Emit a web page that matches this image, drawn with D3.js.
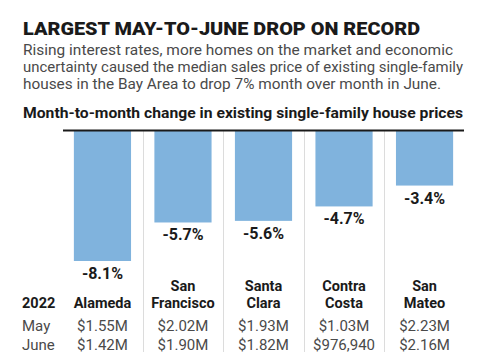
<!DOCTYPE html>
<html><head><meta charset="utf-8">
<script src="https://cdn.jsdelivr.net/npm/d3@7"></script>
<style>
html,body{margin:0;padding:0;background:#fff;}
text{font-family:Roboto,"Liberation Sans",sans-serif;}
</style></head>
<body><svg id="chart" width="485" height="360"></svg>
<script>
const counties = [["Alameda"], ["San","Francisco"], ["Santa","Clara"], ["Contra","Costa"], ["San","Mateo"]];
const changes = [-8.1, -5.7, -5.6, -4.7, -3.4];
const mayPrices = ["$1.55M", "$2.02M", "$1.93M", "$1.03M", "$2.23M"];
const junePrices = ["$1.42M", "$1.90M", "$1.82M", "$976,940", "$2.16M"];
const yearLabel = "2022";
const rowLabels = ["May", "June"];
const title = "LARGEST MAY-TO-JUNE DROP ON RECORD";
const subtitle = ["Rising interest rates, more homes on the market and economic",
  "uncertainty caused the median sales price of existing single-family",
  "houses in the Bay Area to drop 7% month over month in June."];
const chartTitle = "Month-to-month change in existing single-family house prices";

const svg = d3.select("#chart");
const names = counties.map(d => d.join(" "));

svg.append("text").attr("x", 23).attr("y", 35).text(title)
  .attr("font-size", 19).attr("font-weight", 900).attr("fill", "#1a1a1a")
  .attr("textLength", 397).attr("lengthAdjust", "spacingAndGlyphs");

const subL = [430, 440, 418];
subtitle.forEach((s, i) => {
  svg.append("text").attr("x", 23).attr("y", 55 + i * 17).text(s)
    .attr("font-size", 15).attr("fill", "#4a4a4a")
    .attr("textLength", subL[i]).attr("lengthAdjust", "spacingAndGlyphs");
});

svg.append("text").attr("x", 23).attr("y", 118).text(chartTitle)
  .attr("font-size", 15).attr("font-weight", 700).attr("fill", "#1a1a1a")
  .attr("textLength", 440).attr("lengthAdjust", "spacingAndGlyphs");

const x = d3.scaleBand().domain(names).range([63, 464]).paddingInner(0.29).paddingOuter(0.135);
const y = d3.scaleLinear().domain([0, -8.1]).range([131, 261]);
const step = x.step(), bw = x.bandwidth();

// separators
svg.append("g").selectAll("line").data(names.slice(0, -1)).join("line")
  .attr("x1", d => Math.round(x(d) + bw + (step - bw) / 2) + 0.5)
  .attr("x2", d => Math.round(x(d) + bw + (step - bw) / 2) + 0.5)
  .attr("y1", 131).attr("y2", 352)
  .attr("stroke", "#dcdcdc").attr("stroke-width", 1);

svg.append("g").selectAll("rect").data(changes).join("rect")
  .attr("x", (d, i) => x(names[i])).attr("width", bw)
  .attr("y", y(0)).attr("height", d => y(d) - y(0))
  .attr("fill", "#80b3dd");

svg.append("line").attr("x1", 63).attr("x2", 464).attr("y1", 130.5).attr("y2", 130.5)
  .attr("stroke", "#1a1a1a").attr("stroke-width", 2);

svg.append("g").selectAll("text").data(changes).join("text")
  .attr("x", (d, i) => x(names[i]) + bw / 2).attr("y", d => y(d) + 18)
  .attr("text-anchor", "middle").attr("font-size", 16).attr("font-weight", 700)
  .attr("fill", "#1a1a1a").text(d => d.toFixed(1) + "%");

// category labels
const cat = svg.append("g");
counties.forEach((lines, i) => {
  const cx = x(names[i]) + bw / 2;
  lines.forEach((l, j) => {
    cat.append("text").attr("x", cx).attr("y", 308 - (lines.length - 1 - j) * 17)
      .attr("text-anchor", "middle").attr("font-size", 14.5).attr("font-weight", 700)
      .attr("fill", "#1a1a1a").text(l);
  });
});
svg.append("text").attr("x", 22).attr("y", 308).text(yearLabel)
  .attr("font-size", 14.5).attr("font-weight", 700).attr("fill", "#1a1a1a");

[mayPrices, junePrices].forEach((row, r) => {
  const yy = 331 + r * 19;
  svg.append("text").attr("x", 22).attr("y", yy).text(rowLabels[r])
    .attr("font-size", 15).attr("fill", "#4a4a4a");
  svg.append("g").selectAll("text").data(row).join("text")
    .attr("x", (d, i) => x(names[i]) + bw / 2).attr("y", yy)
    .attr("text-anchor", "middle").attr("font-size", 15).attr("fill", "#4a4a4a")
    .text(d => d);
});
</script></body></html>
